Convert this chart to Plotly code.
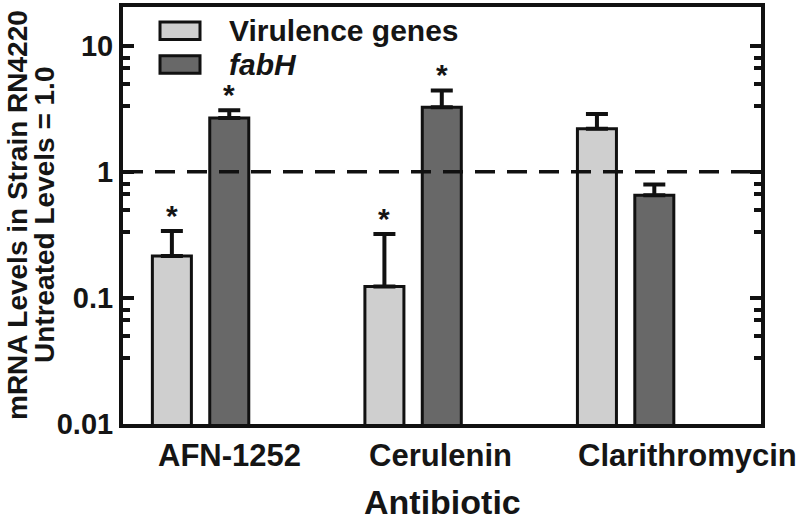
import math
import plotly.graph_objects as go

categories = ["AFN-1252", "Cerulenin", "Clarithromycin"]
series_names = ["Virulence genes", "fabH"]
virulence = [0.215, 0.123, 2.19]
virulence_err = [0.123, 0.197, 0.68]
fabh = [2.66, 3.24, 0.65]
fabh_err = [0.41, 1.17, 0.14]
virulence_sig = [True, True, False]
fabh_sig = [True, True, False]
y_tickvals = [0.01, 0.1, 1, 10]
y_ticktext = ["0.01", "0.1", "1", "10"]
minor_factors = [0.8, 2 / 3, 0.5, 1 / 3]
reference_level = 1.0
label_shift = [-45, -46, -50]

FONT = "Liberation Sans, Arial, sans-serif"
TXT = "#151515"
LIGHT = "#cfcfcf"
DARK = "#686868"

fig = go.Figure()
for name, vals, errs, col in [
    (series_names[0], virulence, virulence_err, LIGHT),
    (series_names[1], fabh, fabh_err, DARK),
]:
    fig.add_trace(go.Bar(
        x=categories, y=vals, name=name,
        marker=dict(color=col, line=dict(color="#111111", width=3)),
        error_y=dict(type="data", array=errs, symmetric=False,
                     arrayminus=[0] * len(errs), color="#111111",
                     thickness=4, width=11),
        showlegend=False,
    ))

# significance asterisks
for vals, errs, sig, shift in [
    (virulence, virulence_err, virulence_sig, -28.7),
    (fabh, fabh_err, fabh_sig, 28.7),
]:
    for c, v, e, s in zip(categories, vals, errs, sig):
        if s:
            fig.add_annotation(
                x=c, y=math.log10(v + e), xref="x", yref="y",
                text="<b>*</b>", showarrow=False, xshift=shift,
                yanchor="middle", yshift=16,
                font=dict(family=FONT, size=30, color=TXT),
            )

# category labels
for c, sh in zip(categories, label_shift):
    fig.add_annotation(
        x=c, y=0, xref="x", yref="paper", text=f"<b>{c}</b>",
        showarrow=False, xanchor="left", yanchor="top",
        xshift=sh, yshift=-12,
        font=dict(family=FONT, size=31, color=TXT),
    )

# axis titles
fig.add_annotation(x=0.5, y=0, xref="paper", yref="paper",
                   text="<b>Antibiotic</b>", showarrow=False,
                   xanchor="center", yanchor="bottom", yshift=-99,
                   font=dict(family=FONT, size=34, color=TXT))
fig.add_annotation(x=0, y=0.5, xref="paper", yref="paper",
                   text="<b>mRNA Levels in Strain RN4220</b>", showarrow=False,
                   textangle=-90, xanchor="left", yanchor="middle",
                   xshift=-123,
                   font=dict(family=FONT, size=28, color=TXT))
fig.add_annotation(x=0, y=0.5, xref="paper", yref="paper",
                   text="<b>Untreated Levels = 1.0</b>", showarrow=False,
                   textangle=-90, xanchor="left", yanchor="middle",
                   xshift=-96,
                   font=dict(family=FONT, size=28, color=TXT))

# reference dashed line
fig.add_shape(type="line", xref="paper", yref="y", x0=0, x1=1,
              y0=reference_level, y1=reference_level,
              line=dict(color="#111111", width=3.5, dash="20px,12px"),
              layer="above")

# manual legend
legend_rows = [(series_names[0], LIGHT, "<b>Virulence genes</b>", 0.943),
               (series_names[1], DARK, "<b><i>fabH</i></b>", 0.862)]
for _, col, label, yc in legend_rows:
    fig.add_shape(type="rect", xref="paper", yref="paper",
                  x0=0.0580, x1=0.1207, y0=yc - 0.021, y1=yc + 0.021,
                  fillcolor=col, line=dict(color="#111111", width=3))
    fig.add_annotation(x=0.163, y=yc, xref="paper", yref="paper",
                       text=label, showarrow=False, xanchor="left",
                       yanchor="middle",
                       font=dict(family=FONT, size=30, color=TXT))

minor_vals = [d * f for d in [10, 1, 0.1] for f in minor_factors]

fig.update_layout(
    width=800, height=523,
    margin=dict(l=123, r=39, t=3, b=99),
    paper_bgcolor="white", plot_bgcolor="white",
    barmode="group", bargap=0.46, bargroupgap=0.32,
    font=dict(family=FONT, color=TXT),
    xaxis=dict(type="category", range=[-0.365, 2.637],
               showticklabels=False, ticks="", showgrid=False,
               showline=True, linecolor="#111111", linewidth=4, mirror=True),
    yaxis=dict(type="log", range=[-2, math.log10(20.2)],
               tickvals=y_tickvals, ticktext=[f"<b>{t}</b>" for t in y_ticktext],
               ticks="inside", ticklen=11, tickwidth=4, tickcolor="#111111",
               tickfont=dict(family=FONT, size=29, color=TXT),
               ticklabelstandoff=0,
               minor=dict(tickvals=minor_vals, ticks="inside", ticklen=7,
                          tickwidth=4, tickcolor="#111111", showgrid=False),
               showgrid=False, zeroline=False,
               showline=True, linecolor="#111111", linewidth=4, mirror="ticks"),
)

fig.write_html("out.html", config={"displayModeBar": False},
               post_script="document.body.style.margin='0';document.body.style.overflow='hidden';")
